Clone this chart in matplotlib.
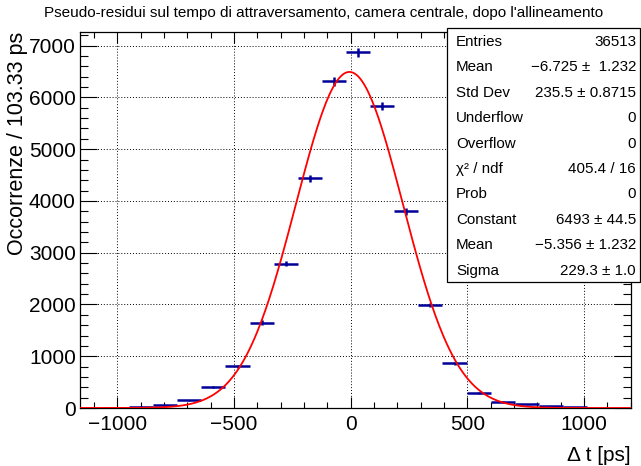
import numpy as np
import matplotlib

matplotlib.use("Agg")
import matplotlib.pyplot as plt
from matplotlib.patches import Rectangle
from matplotlib.ticker import MultipleLocator

plt.rcParams["font.family"] = ["Liberation Sans", "DejaVu Sans"]

# histogram: 24 bins of 103.33 ps from -1260 to 1220
bin_lo = -1260.0
bin_hi = 1220.0
counts = [0, 0, 3, 25, 50, 150, 400, 810, 1650, 2790, 4440, 6310,
          6870, 5840, 3800, 1990, 860, 290, 115, 75, 35, 10, 0, 0]

# gaussian fit parameters (from the stats box)
fit_const = 6493.0
fit_mean = -5.356
fit_sigma = 229.3

stat_names = ["Entries", "Mean", "Std Dev", "Underflow", "Overflow",
              "χ² / ndf", "Prob", "Constant", "Mean", "Sigma"]
stat_values = ["36513", "−6.725 ±  1.232", "235.5 ± 0.8715", "0", "0",
               "405.4 / 16", "0", "6493 ± 44.5", "−5.356 ± 1.232", "229.3 ± 1.0"]

title = "Pseudo-residui sul tempo di attraversamento, camera centrale, dopo l'allineamento"

HIST = "#000099"
FIT = "#ff0000"

fig = plt.figure(figsize=(6.41, 4.66), dpi=100)
ax = fig.add_axes([80 / 641, 1 - 408 / 466, (630.7 - 80) / 641, (408 - 31.7) / 466])

counts = np.array(counts, dtype=float)
edges = np.linspace(bin_lo, bin_hi, len(counts) + 1)
centers = 0.5 * (edges[:-1] + edges[1:])
half = 0.5 * (edges[1] - edges[0])
nz = counts > 0
ax.errorbar(centers[nz], counts[nz], xerr=half, yerr=np.sqrt(counts[nz]),
            fmt="none", ecolor=HIST, elinewidth=1.8, capsize=0, zorder=3)

xf = np.linspace(bin_lo, bin_hi, 600)
ax.plot(xf, fit_const * np.exp(-0.5 * ((xf - fit_mean) / fit_sigma) ** 2),
        color=FIT, lw=1.3, zorder=4)

ax.set_xlim(-1160, 1200)
ax.set_ylim(0, 7270)
ax.xaxis.set_major_locator(MultipleLocator(500))
ax.xaxis.set_minor_locator(MultipleLocator(100))
ax.yaxis.set_major_locator(MultipleLocator(1000))
ax.yaxis.set_minor_locator(MultipleLocator(200))
ax.tick_params(which="both", direction="in", top=True, right=True, labelsize=15, width=0.8)
ax.tick_params(axis="x", which="major", length=8, pad=5)
ax.tick_params(axis="x", which="minor", length=4)
ax.tick_params(axis="y", which="major", length=12, pad=3)
ax.tick_params(axis="y", which="minor", length=6)
ax.grid(True, which="major", color="black", lw=0.7, linestyle=(0, (1, 2)))
for s in ax.spines.values():
    s.set_linewidth(0.9)

ax.set_ylabel("Occorrenze / 103.33 ps", fontsize=15.5, loc="top", labelpad=1)
ax.set_xlabel("Δ t [ps]", fontsize=15, loc="right", labelpad=9)

fig.text(324 / 641, 1 - 13 / 466, title, ha="center", va="center", fontsize=11)

# stats box
bx0, bx1, by0, by1 = 447, 640, 28, 282
fig.patches.append(Rectangle((bx0 / 641, 1 - by1 / 466), (bx1 - bx0) / 641, (by1 - by0) / 466,
                             transform=fig.transFigure, facecolor="white",
                             edgecolor="black", lw=0.9, zorder=10))
row_h = (by1 - by0) / len(stat_names)
for i, (n, v) in enumerate(zip(stat_names, stat_values)):
    yy = 1 - (by0 + row_h * (i + 0.55)) / 466
    fig.text(456 / 641, yy, n, ha="left", va="center", fontsize=10.9, zorder=11)
    fig.text(636 / 641, yy, v, ha="right", va="center", fontsize=10.9, zorder=11)

fig.savefig("out.png", dpi=100)
